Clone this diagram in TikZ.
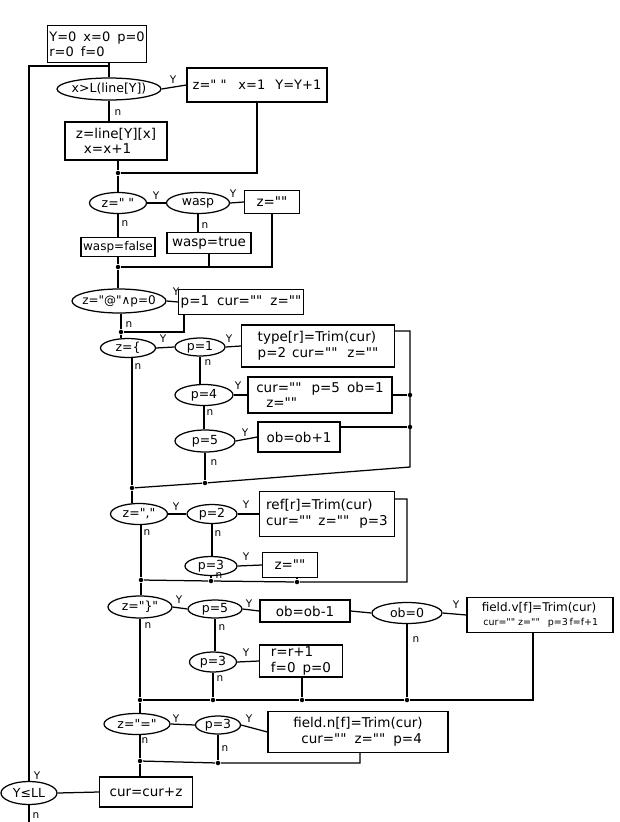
\documentclass[tikz,border=0pt]{standalone}
\usepackage{fontspec}
\newfontfamily\hand{DejaVu Sans}
\usetikzlibrary{shapes.geometric}
\newcommand\ct[1]{\makebox[0pt]{#1}}
\begin{document}
\begin{tikzpicture}[x=1pt,y=-1pt,line width=1.25pt,
  every node/.style={font=\hand\fontsize{13.5}{15.5}\selectfont},
  box/.style={draw,rectangle,line width=1.25pt,align=left,inner sep=2pt},
  dec/.style={draw,ellipse,line width=1.25pt,inner sep=0.3pt,font=\hand\fontsize{12.5}{14}\selectfont},
  lab/.style={font=\hand\fontsize{10.5}{11}\selectfont,inner sep=0pt},
  dot/.style={circle,fill,inner sep=0pt,minimum size=4.5pt}]
\useasboundingbox (0,0) rectangle (620,822);
% ---- section 1
\node[box,minimum width=99pt,minimum height=37pt,font=\hand\fontsize{13}{15}\selectfont] (init) at (97,44) {Y=0\hspace{7pt}x=0\hspace{7pt}p=0\\r=0\hspace{7pt}f=0};
\node[dec,minimum width=104pt,minimum height=22pt] (c1) at (109,89) {\ct{x>L(line[Y])}};
\node[box,minimum width=140pt,minimum height=34pt,font=\hand\fontsize{13}{15}\selectfont] (b1) at (257,85) {z=" "\hspace{12pt}x=1\hspace{10pt}Y=Y+1};
\node[box,minimum width=102pt,minimum height=38pt] (b2) at (116,141) {z=line[Y][x]\\\hspace{8pt}x=x+1};
\node[dot] (m1) at (118,173) {};
\node[dec,minimum width=57pt,minimum height=21pt] (c2) at (118,203) {\ct{z=" "}};
\node[dec,minimum width=63pt,minimum height=21pt] (c3) at (198,203) {\ct{wasp}};
\node[box,minimum width=55pt,minimum height=23pt] (b3) at (272,202) {z=""};
\node[box,minimum width=74pt,minimum height=19pt,inner xsep=1pt,font=\hand\fontsize{12}{13}\selectfont] (b4) at (118,247) {wasp=false};
\node[box,minimum width=84pt,minimum height=21pt] (b5) at (209,243) {wasp=true};
\node[dot] (m2) at (118,267) {};
% ---- section 2
\node[dec,minimum width=94pt,minimum height=24pt,font=\hand\fontsize{12}{14}\selectfont] (c4) at (119,301) {\ct{z="@"∧p=0}};
\node[box,minimum width=117pt,minimum height=25pt] (b6) at (241,302) {p=1\hspace{8pt}cur=""\hspace{8pt}z=""};
\node[dot] (m3) at (121,332) {};
\node[dec,minimum width=55pt,minimum height=19pt] (c5) at (128,348) {\ct{z=\{}};
\node[dec,minimum width=50pt,minimum height=18pt] (c6) at (200,347) {\ct{p=1}};
\node[box,minimum width=153pt,minimum height=42pt] (b7) at (318,346) {type[r]=Trim(cur)\\p=2\hspace{6pt}cur=""\hspace{10pt}z=""};
\node[dec,minimum width=58pt,minimum height=21pt] (c7) at (204,395) {\ct{p=4}};
\node[box,minimum width=144pt,minimum height=36pt] (b8) at (320,395) {cur=""\hspace{10pt}p=5\hspace{7pt}ob=1\\\hspace{10pt}z=""};
\node[dec,minimum width=60pt,minimum height=22pt] (c8) at (205,441) {\ct{p=5}};
\node[box,minimum width=82pt,minimum height=30pt] (b9) at (299,437) {ob=ob+1};
\node[dot] (m4) at (205,483) {};
\node[dot] (m5) at (132,488) {};
\coordinate (rt) at (410,331);
\node[dot] (j1) at (410,395) {};
\node[dot] (j2) at (410,427) {};
\coordinate (rb) at (410,467);
% ---- section 3
\node[dec,minimum width=57pt,minimum height=21pt] (c9) at (139,514) {\ct{z=","}};
\node[dec,minimum width=50pt,minimum height=19pt] (c10) at (212,514) {\ct{p=2}};
\node[box,minimum width=135pt,minimum height=45pt] (b10) at (327,514) {ref[r]=Trim(cur)\\cur=""\hspace{7pt}z=""\hspace{10pt}p=3};
\node[dec,minimum width=52pt,minimum height=19pt] (c11) at (211,566) {\ct{p=3}};
\node[box,minimum width=55pt,minimum height=25pt] (b11) at (290,565) {z=""};
\node[dot] (m6) at (141,580) {};
\node[dot] (m7) at (211,581) {};
\node[dot] (m8) at (297,582) {};
\coordinate (rr) at (407,499);
\coordinate (rrb) at (407,582);
% ---- section 4
\node[dec,minimum width=64pt,minimum height=22pt] (c12) at (140,607) {\ct{z="\}"}};
\node[dec,minimum width=54pt,minimum height=18pt] (c13) at (215,609) {\ct{p=5}};
\node[box,minimum width=90pt,minimum height=22pt] (b12) at (305,611) {ob=ob-1};
\node[dec,minimum width=70pt,minimum height=21pt] (c14) at (407,613) {\ct{ob=0}};
\node[box,minimum width=146pt,minimum height=35pt,inner xsep=1pt,font=\hand\fontsize{12}{13.5}\selectfont] (b13) at (540,615) {field.v[f]=Trim(cur)\\{\fontsize{9.5}{11}\selectfont\,cur=""\ z=""\hspace{8pt}p=3\,f=f+1}};
\node[dec,minimum width=47pt,minimum height=20pt] (c15) at (213,662) {\ct{p=3}};
\node[box,minimum width=83pt,minimum height=32pt] (b14) at (301,661) {r=r+1\\f=0\hspace{7pt}p=0};
\node[dot] (m9) at (140,700) {};
\node[dot] (m10) at (213,700) {};
\node[dot] (m11) at (302,700) {};
\node[dot] (m12) at (407,700) {};
\coordinate (eb) at (533,700);
% ---- section 5
\node[dec,minimum width=66pt,minimum height=21pt] (c16) at (137,724) {\ct{z="="}};
\node[dec,minimum width=45pt,minimum height=18pt] (c17) at (218,725) {\ct{p=3}};
\node[box,minimum width=180pt,minimum height=41pt] (b15) at (358,732) {field.n[f]=Trim(cur)\\\hspace{8pt}cur=""\hspace{8pt}z=""\hspace{8pt}p=4};
\node[dot] (m13) at (140,761) {};
\node[dot] (m14) at (218,763) {};
\coordinate (eb2) at (360,763);
\node[box,minimum width=93pt,minimum height=30pt] (b16) at (146,792) {cur=cur+z};
\node[dec,minimum width=56pt,minimum height=23pt] (c18) at (29,793) {\ct{Y≤LL}};
\coordinate (j0) at (109,66);
\coordinate (bot) at (29,822);
% ---- labels
\node[lab] (y1) at (173,80) {Y};
\node[lab] (y2) at (156,196) {Y};
\node[lab] (y3) at (233,194) {Y};
\node[lab] (y4) at (176,292) {Y};
\node[lab] (y5) at (163,339) {Y};
\node[lab] (y6) at (229,339) {Y};
\node[lab] (y7) at (238,386) {Y};
\node[lab] (y8) at (245,433) {Y};
\node[lab] (y9) at (176,507) {Y};
\node[lab] (y10) at (246,505) {Y};
\node[lab] (y11) at (246,557) {Y};
\node[lab] (y12) at (179,600) {Y};
\node[lab] (y13) at (249,604) {Y};
\node[lab] (y14) at (456,605) {Y};
\node[lab] (y15) at (246,653) {Y};
\node[lab] (y16) at (176,719) {Y};
\node[lab] (y17) at (249,719) {Y};
\node[lab] (y18) at (37,776) {Y};
\node[lab] (n1) at (118,113) {n};
\node[lab] (n2) at (125,224) {n};
\node[lab] (n3) at (205,226) {n};
\node[lab] (n4) at (129,325) {n};
\node[lab] (n5) at (138,367) {n};
\node[lab] (n6) at (208,363) {n};
\node[lab] (n7) at (210,413) {n};
\node[lab] (n8) at (214,463) {n};
\node[lab] (n9) at (147,533) {n};
\node[lab] (n10) at (218,534) {n};
\node[lab] (n11) at (219,576) {n};
\node[lab] (n12) at (148,626) {n};
\node[lab] (n13) at (222,628) {n};
\node[lab] (n14) at (416,640) {n};
\node[lab] (n15) at (220,679) {n};
\node[lab] (n16) at (145,741) {n};
\node[lab] (n17) at (225,749) {n};
\node[lab] (n18) at (36,816) {n};
% ---- connectors
\draw (init.south -| j0) -- (j0) -- (c1.north);
\draw (c18.north) |- (j0);
\draw (c1.east) -- (b1.west);
\draw (c1.south) -- (c1.south |- b2.north);
\draw (b2.south -| m1) -- (m1);
\draw (b1.south) |- (m1);
\draw (m1) -- (m1 |- c2.north);
\draw (c2.east) -- (c3.west);
\draw (c3.east) -- (b3.west);
\draw (c2.south) -- (c2.south |- b4.north);
\draw (c3.south) -- (c3.south |- b5.north);
\draw (b4.south -| m2) -- (m2);
\draw (b5.south) |- (m2);
\draw (b3.south) |- (m2);
\draw (m2) -- (m2 |- c4.north);
\draw (c4.east) -- (b6.west);
\draw (c4.south -| m3) -- (m3);
\draw ([xshift=6pt]b6.south west) |- (m3);
\draw (m3) -- (m3 |- c5.north);
\draw (c5.east) -- (c6.west);
\draw (c6.east) -- (b7.west);
\draw (c6.south) -- (c6.south |- c7.north);
\draw (c7.east) -- (b8.west);
\draw (c7.south) -- (c7.south |- c8.north);
\draw (c8.east) -- (b9.west);
\draw (c8.south) -- (m4);
\draw (b7.east |- rt) -- (rt) -- (rb) -- (m4) -- (m5);
\draw (b8.east) -- (j1);
\draw (j2 -| b9.east) -- (j2);
\draw (c5.south -| m5) -- (m5);
\draw (m5) -- (m5 |- c9.north);
\draw (c9.east) -- (c10.west);
\draw (c10.east) -- (b10.west);
\draw (c9.south -| m6) -- (m6);
\draw (c10.south) -- (c10.south |- c11.north);
\draw (c11.east) -- (b11.west);
\draw (c11.south) -- (m7);
\draw (b11.south -| m8) -- (m8);
\draw (b10.east |- rr) -- (rr) -- (rrb) -- (m8) -- (m7) -- (m6);
\draw (m6) -- (m6 |- c12.north);
\draw (c12.east) -- (c13.west);
\draw (c13.east) -- (b12.west);
\draw (b12.east) -- (c14.west);
\draw (c14.east) -- (b13.west);
\draw (c12.south -| m9) -- (m9);
\draw (c13.south) -- (c13.south |- c15.north);
\draw (c15.east) -- (b14.west);
\draw (c15.south) -- (m10);
\draw (b14.south -| m11) -- (m11);
\draw (c14.south) -- (m12);
\draw (b13.south -| eb) -- (eb) -- (m12) -- (m11) -- (m10) -- (m9);
\draw (m9) -- (m9 |- c16.north);
\draw (c16.east) -- (c17.west);
\draw (c17.east) -- (b15.west);
\draw (c16.south -| m13) -- (m13);
\draw (c17.south) -- (m14);
\draw (b15.south -| eb2) -- (eb2) -- (m14) -- (m13);
\draw (m13) -- (m13 |- b16.north);
\draw (b16.west) -- (c18.east);
\draw (c18.south) -- (bot);
\end{tikzpicture}
\end{document}
